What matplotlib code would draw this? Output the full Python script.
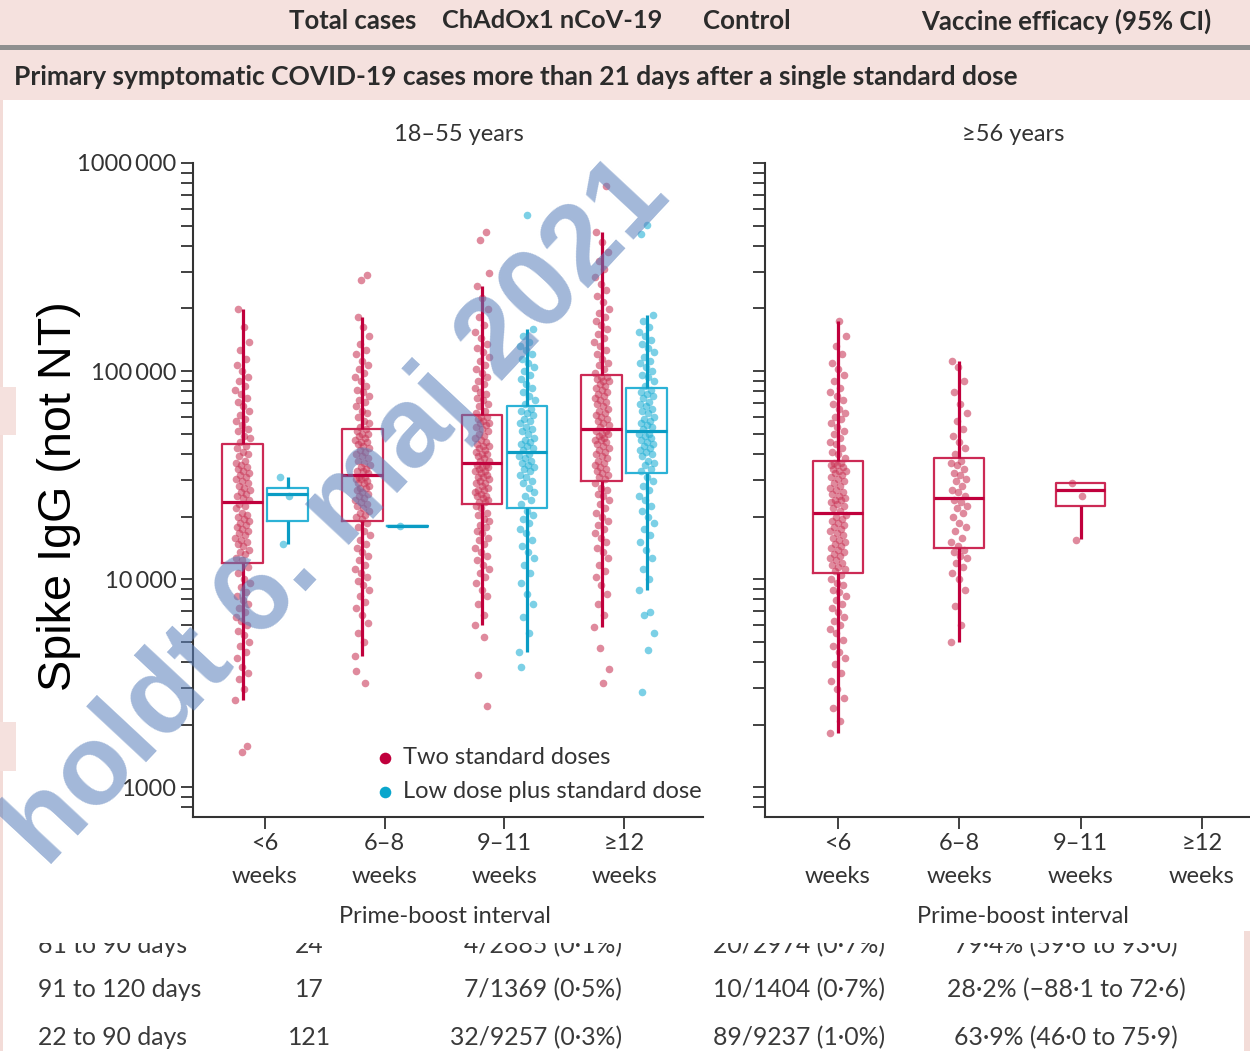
import numpy as np
import matplotlib
matplotlib.use("Agg")
import matplotlib.pyplot as plt
from matplotlib.patches import Rectangle
from matplotlib.ticker import FixedLocator, LogLocator, NullFormatter

# ---------------------------------------------------------------- data
# Spike IgG titres, stored as log10 values
interval_labels = ["<6\nweeks", "6\u20138\nweeks", "9\u201311\nweeks", "\u226512\nweeks"]
ytick_values = [1e3, 1e4, 1e5, 1e6]
ytick_labels = ["1000", "10\u2009000", "100\u2009000", "1000\u2009000"]

# box statistics: whisker low, Q1, median, Q3, whisker high
two_18_55_lo = [3.42, 3.63, 3.78, 3.77]
two_18_55_q1 = [4.08, 4.28, 4.36, 4.47]
two_18_55_med = [4.37, 4.50, 4.56, 4.72]
two_18_55_q3 = [4.65, 4.72, 4.79, 4.98]
two_18_55_hi = [5.30, 5.26, 5.41, 5.67]

low_18_55_lo = [4.17, 4.255, 3.65, 3.95]
low_18_55_q1 = [4.28, 4.255, 4.34, 4.51]
low_18_55_med = [4.41, 4.255, 4.61, 4.71]
low_18_55_q3 = [4.44, 4.255, 4.83, 4.92]
low_18_55_hi = [4.49, 4.255, 5.20, 5.27]

two_56_lo = [3.26, 3.70, 4.195]
two_56_q1 = [4.03, 4.15, 4.35]
two_56_med = [4.32, 4.39, 4.43]
two_56_q3 = [4.57, 4.58, 4.46]
two_56_hi = [5.24, 5.05, 4.46]

# individual participants
two_18_55_lt6 = [
    3.42, 3.47, 3.52, 3.55, 3.58, 3.62, 3.65, 3.68, 3.70, 3.73, 3.75, 3.78, 3.80,
    3.82, 3.84, 3.86, 3.88, 3.90, 3.92, 3.94, 3.96, 3.98, 4.00, 4.03, 4.06,
    4.09, 4.10, 4.12, 4.13, 4.14, 4.16, 4.17, 4.18, 4.19, 4.20, 4.21, 4.22, 4.23,
    4.24, 4.25, 4.26, 4.27, 4.28, 4.29, 4.30, 4.31, 4.32, 4.34, 4.35, 4.36,
    4.38, 4.39, 4.40, 4.41, 4.42, 4.43, 4.44, 4.45, 4.46, 4.47, 4.48, 4.49, 4.50,
    4.51, 4.52, 4.53, 4.54, 4.55, 4.56, 4.57, 4.59, 4.60, 4.61, 4.63, 4.64,
    4.66, 4.68, 4.69, 4.71, 4.72, 4.74, 4.76, 4.77, 4.79, 4.81, 4.83, 4.85, 4.87,
    4.89, 4.91, 4.93, 4.95, 4.97, 5.00, 5.03, 5.06, 5.10, 5.14, 5.21, 5.30,
    3.20, 3.17,
]
two_18_55_6_8 = [
    3.63, 3.70, 3.74, 3.79, 3.83, 3.86, 3.89, 3.92, 3.95, 3.97, 3.99, 4.01, 4.03,
    4.05, 4.07, 4.09, 4.11, 4.13, 4.15, 4.17, 4.19, 4.21, 4.23, 4.25, 4.27,
    4.29, 4.30, 4.31, 4.32, 4.33, 4.34, 4.35, 4.36, 4.37, 4.38, 4.39, 4.40, 4.41,
    4.42, 4.43, 4.44, 4.44, 4.45, 4.46, 4.46, 4.47, 4.48, 4.48, 4.49, 4.49,
    4.51, 4.52, 4.52, 4.53, 4.54, 4.55, 4.56, 4.57, 4.58, 4.59, 4.60, 4.61, 4.62,
    4.63, 4.64, 4.65, 4.66, 4.66, 4.67, 4.68, 4.69, 4.70, 4.70, 4.71, 4.72,
    4.73, 4.75, 4.76, 4.78, 4.80, 4.81, 4.83, 4.85, 4.86, 4.88, 4.90, 4.91, 4.93,
    4.95, 4.97, 4.99, 5.01, 5.03, 5.05, 5.08, 5.10, 5.13, 5.17, 5.21, 5.26,
    5.46, 5.44, 3.56, 3.50,
]
two_18_55_9_11 = [
    3.78, 3.83, 3.88, 3.92, 3.95, 3.98, 4.01, 4.03, 4.05, 4.07, 4.09, 4.11, 4.13,
    4.15, 4.17, 4.19, 4.20, 4.22, 4.23, 4.25, 4.26, 4.28, 4.29, 4.31, 4.32, 4.34, 4.35,
    4.37, 4.37, 4.38, 4.39, 4.40, 4.40, 4.41, 4.42, 4.43, 4.43, 4.44, 4.45, 4.46,
    4.46, 4.47, 4.48, 4.49, 4.49, 4.50, 4.51, 4.52, 4.52, 4.53, 4.54, 4.54, 4.55, 4.55,
    4.57, 4.57, 4.58, 4.59, 4.60, 4.60, 4.61, 4.62, 4.63, 4.64, 4.64, 4.65, 4.66,
    4.67, 4.68, 4.69, 4.70, 4.71, 4.72, 4.73, 4.74, 4.75, 4.75, 4.76, 4.77, 4.78, 4.78,
    4.80, 4.81, 4.83, 4.84, 4.86, 4.87, 4.89, 4.90, 4.92, 4.94, 4.95, 4.97, 4.99,
    5.01, 5.03, 5.05, 5.07, 5.09, 5.11, 5.13, 5.16, 5.19, 5.22, 5.26, 5.30, 5.35, 5.41,
    5.67, 5.63, 5.47, 3.72, 3.54, 3.39,
]
two_18_55_ge12 = [
    3.77, 3.83, 3.88, 3.93, 3.97, 4.01, 4.04, 4.07, 4.10, 4.13, 4.15, 4.18, 4.20,
    4.22, 4.24, 4.26, 4.28, 4.30, 4.32, 4.34, 4.36, 4.38, 4.40, 4.41, 4.43, 4.44, 4.46,
    4.48, 4.49, 4.50, 4.51, 4.52, 4.53, 4.54, 4.55, 4.56, 4.57, 4.58, 4.59, 4.60,
    4.61, 4.62, 4.63, 4.64, 4.65, 4.66, 4.67, 4.67, 4.68, 4.69, 4.70, 4.70, 4.71, 4.71,
    4.73, 4.74, 4.75, 4.76, 4.77, 4.78, 4.79, 4.80, 4.81, 4.82, 4.83, 4.84, 4.85,
    4.86, 4.87, 4.88, 4.89, 4.90, 4.91, 4.92, 4.93, 4.94, 4.95, 4.95, 4.96, 4.97, 4.97,
    4.99, 5.01, 5.03, 5.04, 5.06, 5.08, 5.10, 5.12, 5.14, 5.16, 5.18, 5.20, 5.22,
    5.24, 5.26, 5.28, 5.30, 5.33, 5.36, 5.39, 5.42, 5.45, 5.49, 5.53, 5.57, 5.62, 5.67,
    5.89, 3.67, 3.57, 3.50,
]
low_18_55_lt6 = [4.49, 4.40, 4.17]
low_18_55_6_8 = [4.255]
low_18_55_9_11 = [
    3.65, 3.74, 3.82, 3.88, 3.93, 3.98, 4.03, 4.07, 4.10, 4.13, 4.16, 4.19, 4.22,
    4.24, 4.27, 4.29, 4.31, 4.33,
    4.36, 4.38, 4.40, 4.42, 4.44, 4.46, 4.47, 4.49, 4.50, 4.52, 4.53, 4.54, 4.55,
    4.56, 4.57, 4.58, 4.59, 4.60,
    4.62, 4.63, 4.64, 4.65, 4.66, 4.67, 4.68, 4.70, 4.71, 4.72, 4.73, 4.75, 4.76,
    4.77, 4.79, 4.80, 4.81, 4.82,
    4.84, 4.86, 4.88, 4.90, 4.92, 4.94, 4.96, 4.98, 5.00, 5.02, 5.04, 5.06, 5.08,
    5.10, 5.12, 5.14, 5.17, 5.20,
    5.75, 3.58,
]
low_18_55_ge12 = [
    3.95, 4.00, 4.05, 4.10, 4.14, 4.18, 4.21, 4.24, 4.27, 4.30, 4.33, 4.35, 4.38,
    4.40, 4.43, 4.45, 4.47, 4.49,
    4.52, 4.53, 4.55, 4.56, 4.57, 4.59, 4.60, 4.61, 4.62, 4.63, 4.64, 4.65, 4.66,
    4.67, 4.68, 4.69, 4.70, 4.70,
    4.72, 4.73, 4.74, 4.75, 4.76, 4.77, 4.78, 4.80, 4.81, 4.82, 4.83, 4.84, 4.85,
    4.87, 4.88, 4.89, 4.90, 4.91,
    4.93, 4.95, 4.97, 4.98, 5.00, 5.02, 5.04, 5.05, 5.07, 5.09, 5.11, 5.13, 5.15,
    5.17, 5.19, 5.21, 5.24, 5.27,
    5.70, 5.66, 3.84, 3.83, 3.74, 3.66, 3.46,
]
two_56_lt6 = [
    3.26, 3.32, 3.38, 3.43, 3.47, 3.51, 3.55, 3.59, 3.62, 3.65, 3.68, 3.71, 3.74,
    3.76, 3.78, 3.80, 3.82, 3.84, 3.86, 3.88, 3.90, 3.92, 3.94, 3.95, 3.97, 3.98,
    4.00, 4.02,
    4.04, 4.05, 4.06, 4.07, 4.08, 4.09, 4.10, 4.11, 4.12, 4.13, 4.14, 4.15, 4.16,
    4.17, 4.18, 4.19, 4.20, 4.21, 4.22, 4.23, 4.24, 4.25, 4.26, 4.27, 4.28, 4.29,
    4.30, 4.31,
    4.33, 4.34, 4.35, 4.36, 4.37, 4.38, 4.38, 4.39, 4.40, 4.41, 4.42, 4.43, 4.44,
    4.45, 4.46, 4.47, 4.48, 4.49, 4.50, 4.51, 4.52, 4.52, 4.53, 4.54, 4.55, 4.55,
    4.56, 4.56,
    4.58, 4.60, 4.61, 4.63, 4.65, 4.66, 4.68, 4.70, 4.71, 4.73, 4.75, 4.77, 4.78,
    4.80, 4.82, 4.84, 4.86, 4.88, 4.90, 4.92, 4.95, 4.98, 5.01, 5.04, 5.08, 5.12,
    5.17, 5.24,
]
two_56_6_8 = [
    3.70, 3.78, 3.87, 3.95, 4.00, 4.03, 4.06, 4.08, 4.10, 4.11, 4.13, 4.14,
    4.16, 4.18, 4.20, 4.23, 4.25, 4.27, 4.30, 4.32, 4.34, 4.35, 4.37, 4.38,
    4.40, 4.42, 4.43, 4.45, 4.47, 4.48, 4.50, 4.51, 4.53, 4.55, 4.56, 4.57,
    4.60, 4.63, 4.66, 4.69, 4.72, 4.76, 4.80, 4.84, 4.90, 4.95, 5.02, 5.05,
]
two_56_9_11 = [4.46, 4.40, 4.19]

two_18_55 = [two_18_55_lt6, two_18_55_6_8, two_18_55_9_11, two_18_55_ge12]
low_18_55 = [low_18_55_lt6, low_18_55_6_8, low_18_55_9_11, low_18_55_ge12]
two_56 = [two_56_lt6, two_56_6_8, two_56_9_11]

# table rows behind the figure
table_rows = [
    ["61 to 90 days", "24", "4/2885 (0\u00b71%)", "20/2974 (0\u00b77%)", "79\u00b74% (59\u00b76 to 93\u00b70)"],
    ["91 to 120 days", "17", "7/1369 (0\u00b75%)", "10/1404 (0\u00b77%)", "28\u00b72% (\u221288\u00b71 to 72\u00b76)"],
    ["22 to 90 days", "121", "32/9257 (0\u00b73%)", "89/9237 (1\u00b70%)", "63\u00b79% (46\u00b70 to 75\u00b79)"],
]
header_cols = ["Total cases", "ChAdOx1 nCoV-19", "Control", "Vaccine efficacy (95% CI)"]
section_title = "Primary symptomatic COVID-19 cases more than 21 days after a single standard dose"

# ---------------------------------------------------------------- style
RED = "#c0003c"
RED_BOX = "#cc2a55"
RED_DOT = "#c93556"
CYAN = "#0a9cc4"
CYAN_BOX = "#2cb2d6"
CYAN_DOT = "#1eaed4"
INK = "#333333"
UI = ["Lato", "DejaVu Sans"]
ARIAL = ["Liberation Sans", "DejaVu Sans"]

W, H = 1250, 1051
fig = plt.figure(figsize=(W / 100, H / 100), dpi=100)
fig.patch.set_facecolor("white")
renderer = fig.canvas.get_renderer()


def fx(x):
    return x / W


def fy(y):
    return 1 - y / H


def rect(x0, y0, x1, y1, color, z):
    fig.patches.append(Rectangle((fx(x0), fy(y1)), fx(x1) - fx(x0), fy(y0) - fy(y1),
                                 transform=fig.transFigure, facecolor=color,
                                 edgecolor="none", zorder=z))


def fit_text(x, y, s, width, rotation=0, **kw):
    t = fig.text(fx(x), fy(y), s, fontsize=20, **kw)
    w = t.get_window_extent(renderer).width
    t.set_fontsize(20 * width / w)
    t.set_rotation(rotation)
    return t


# ---------------------------------------------------------------- page background
PINK = "#f5e1de"
rect(0, 0, W, 45, PINK, 0.2)
rect(0, 45, W, 50, "#8f8f8f", 0.2)
rect(0, 50, W, 100, PINK, 0.2)

hx = [(289, 416), (442, 662), (703, 790), (921, 1210)]
for (x0, x1), s in zip(hx, header_cols):
    fit_text(x0, 21, s, x1 - x0, family=UI, weight="bold", color="#2b2b2b",
             ha="left", va="center", zorder=0.5)
fit_text(14, 77, section_title, 1007, family=UI, weight="bold", color="#2b2b2b",
         ha="left", va="center", zorder=0.5)

# table rows (partly hidden behind the figure panel)
probe = fig.text(0, 0, table_rows[1][0], fontsize=20, family=UI)
row_size = 20 * 163 / probe.get_window_extent(renderer).width
probe.remove()
row_y = [953, 997, 1045]
for yb, row in zip(row_y, table_rows):
    kw = dict(fontsize=row_size, family=UI, color="#3a3a3a", va="baseline", zorder=0.5)
    fig.text(fx(38), fy(yb), row[0], ha="left", **kw)
    fig.text(fx(309), fy(yb), row[1], ha="center", **kw)
    fig.text(fx(622), fy(yb), row[2], ha="right", **kw)
    fig.text(fx(885), fy(yb), row[3], ha="right", **kw)
    fig.text(fx(1066), fy(yb), row[4], ha="center", **kw)

# white panel holding the figure
rect(3, 100, 1244, 943, "white", 1.0)
rect(0, 100, 3, H, "#f3dcd8", 1.1)
rect(1244, 931, W, H, "#f3dcd8", 1.1)
rect(0, 387, 16, 435, PINK, 1.1)
rect(0, 722, 16, 771, PINK, 1.1)

# ---------------------------------------------------------------- axes
axL = fig.add_axes([fx(193), fy(816.7), fx(703) - fx(193), fy(163) - fy(816.7)])
axR = fig.add_axes([fx(765), fy(816.7), fx(1282) - fx(765), fy(163) - fy(816.7)])

for ax in (axL, axR):
    ax.set_zorder(2)
    ax.patch.set_visible(False)
    ax.set_yscale("log")
    ax.set_ylim(722, 1e6)
    ax.set_xlim(-0.6, 3.66)
    for side in ("top", "right"):
        ax.spines[side].set_visible(False)
    for side in ("left", "bottom"):
        ax.spines[side].set_linewidth(1.5)
        ax.spines[side].set_color(INK)
    ax.yaxis.set_major_locator(FixedLocator(ytick_values))
    ax.yaxis.set_minor_locator(LogLocator(base=10, subs=np.arange(2, 10)))
    ax.yaxis.set_minor_formatter(NullFormatter())
    ax.tick_params(axis="both", which="both", direction="out", length=8.5,
                   width=1.3, color=INK)
    ax.set_xticks(range(4))
    ax.set_xticklabels(interval_labels, family=UI, fontsize=17, color=INK,
                       linespacing=1.72)
    ax.tick_params(axis="x", pad=3)
    ax.set_xlabel("Prime-boost interval", family=UI, fontsize=17, color=INK)
    ax.xaxis.label.set_va("center")

axL.set_yticklabels(ytick_labels, family=UI, fontsize=17, color=INK)
axL.tick_params(axis="y", pad=3.5)
axR.set_yticklabels([])
axL.xaxis.set_label_coords(0.494, -0.152)
axR.xaxis.set_label_coords(0.499, -0.152)

axL.text(0.5216, 1.043, "18\u201355 years", transform=axL.transAxes, ha="center",
         va="center", family=UI, fontsize=17, color=INK)
axR.text(0.48, 1.043, "\u226556 years", transform=axR.transAxes, ha="center",
         va="center", family=UI, fontsize=17, color=INK)


def draw_group(ax, pos, width, box, dots, line_col, box_col, dot_col, spread):
    vals = 10 ** np.asarray(dots, dtype=float)
    jit = ((np.arange(len(vals)) * 0.6180339887) % 1.0 - 0.5) * 2 * spread
    ax.scatter(pos + jit, vals, s=30, color=dot_col, alpha=0.58, linewidths=0, zorder=2)
    lo, q1, med, q3, hi = box
    stat = dict(whislo=10 ** lo, q1=10 ** q1, med=10 ** med, q3=10 ** q3, whishi=10 ** hi)
    ax.bxp([stat], positions=[pos], widths=width, showfliers=False, showcaps=False,
           manage_ticks=False, zorder=3,
           boxprops=dict(color=box_col, linewidth=1.6),
           whiskerprops=dict(color=line_col, linewidth=2.3, solid_capstyle="butt"),
           medianprops=dict(color=line_col, linewidth=2.3, solid_capstyle="butt"))


for i in range(4):
    draw_group(axL, i - 0.185, 0.34,
               (two_18_55_lo[i], two_18_55_q1[i], two_18_55_med[i], two_18_55_q3[i], two_18_55_hi[i]),
               two_18_55[i], RED, RED_BOX, RED_DOT, 0.062)
    draw_group(axL, i + 0.19, 0.34,
               (low_18_55_lo[i], low_18_55_q1[i], low_18_55_med[i], low_18_55_q3[i], low_18_55_hi[i]),
               low_18_55[i], CYAN, CYAN_BOX, CYAN_DOT, 0.065)
for i in range(3):
    draw_group(axR, i, 0.41,
               (two_56_lo[i], two_56_q1[i], two_56_med[i], two_56_q3[i], two_56_hi[i]),
               two_56[i], RED, RED_BOX, RED_DOT, 0.068)

# legend
for yl, col, lab in [(0.0898, RED, "Two standard doses"),
                     (0.0378, "#0aa6cc", "Low dose plus standard dose")]:
    axL.scatter([0.3765], [yl], transform=axL.transAxes, s=70, color=col,
                linewidths=0, zorder=4, clip_on=False)
    axL.text(0.4118, yl, lab, transform=axL.transAxes, ha="left", va="center",
             family=UI, fontsize=17, color=INK)

# ---------------------------------------------------------------- overlays
fit_text(59, 496, "Spike IgG (not NT)", 390, rotation=90, family=ARIAL,
         color="black", ha="center", va="center", zorder=3)

wm = fig.text(fx(672), fy(198), "holdt 6. maj 2021", fontsize=82, family=ARIAL,
              weight="bold", color="#5a80bb", alpha=0.56, rotation=47,
              rotation_mode="anchor", ha="right", va="baseline", zorder=10)

fig.savefig("out.png", dpi=100)
